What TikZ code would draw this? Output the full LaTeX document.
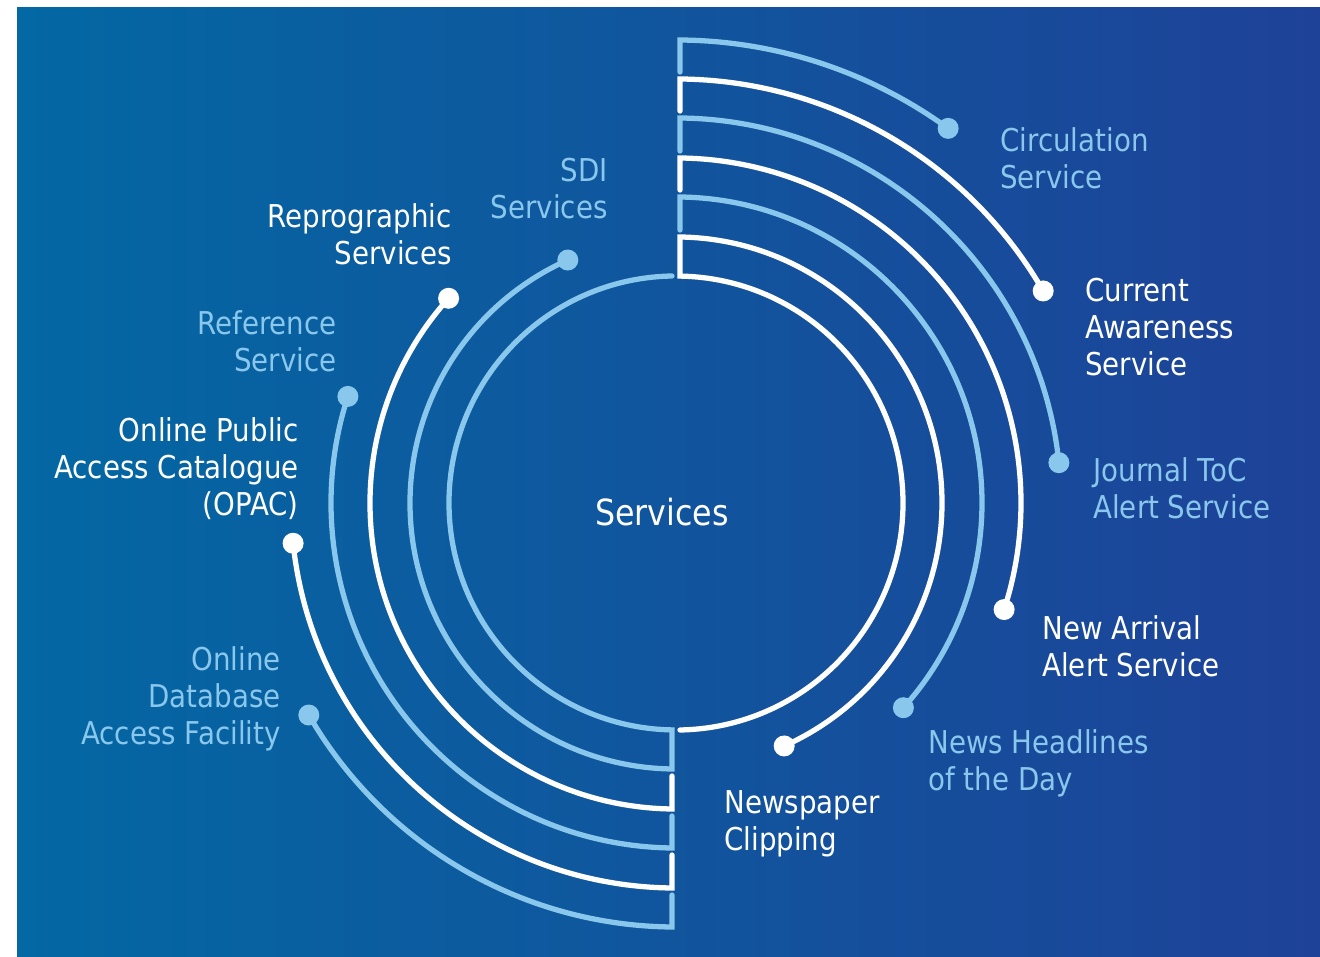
\documentclass[tikz,border=0pt]{standalone}
\usepackage{fontspec}
\setmainfont[FakeStretch=0.88]{DejaVu Sans}
\definecolor{bgL}{RGB}{3,104,163}
\definecolor{bgR}{RGB}{30,66,152}
\definecolor{lb}{RGB}{137,199,236}

\begin{document}
\begin{tikzpicture}[x=0.02cm, y=0.02cm,
    ring/.style={line width=3pt, line cap=round},
    knob/.style={radius=10.5},
    lab/.style={inner sep=0pt, font=\fontsize{17.9}{21}\selectfont}]
    \useasboundingbox (0,0) rectangle (1320,957);
    \shade[left color=bgL, right color=bgR] (17,0) rectangle (1320,949);

    % right half, clockwise from the top
    \draw[ring, white] (680,227) arc[start angle={-acos(4/227)}, end angle={acos(4/227)}, radius=227]
        -- (680,720) arc[start angle={acos(4/266)}, end angle=-66, radius=266] coordinate (dClip);
    \draw[ring, lb] (680,727) -- (680,760) arc[start angle={acos(4/306)}, end angle=-42, radius=306] coordinate (dNews);
    \draw[ring, white] (680,767) -- (680,799) arc[start angle={acos(4/345)}, end angle=-18, radius=345] coordinate (dArr);
    \draw[ring, lb] (680,806) -- (680,839) arc[start angle={acos(4/385)}, end angle=6, radius=385] coordinate (dToc);
    \draw[ring, white] (680,846) -- (680,878) arc[start angle={acos(4/424)}, end angle=30, radius=424] coordinate (dCur);
    \draw[ring, lb] (680,885) -- (680,917) arc[start angle={acos(4/463)}, end angle=54, radius=463] coordinate (dCirc);

    % left half, clockwise from the bottom
    \draw[ring, lb] (672,681) arc[start angle={180-acos(4/227)}, end angle={180+acos(4/227)}, radius=227]
        -- (672,188) arc[start angle={180+acos(4/266)}, end angle=114, radius=266] coordinate (dSdi);
    \draw[ring, white] (672,181) -- (672,148) arc[start angle={180+acos(4/306)}, end angle=138, radius=306] coordinate (dRepro);
    \draw[ring, lb] (672,141) -- (672,109) arc[start angle={180+acos(4/345)}, end angle=162, radius=345] coordinate (dRef);
    \draw[ring, white] (672,102) -- (672,69) arc[start angle={180+acos(4/385)}, end angle=186, radius=385] coordinate (dOpac);
    \draw[ring, lb] (672,62) -- (672,30) arc[start angle={180+acos(4/424)}, end angle=210, radius=424] coordinate (dOdb);

    \fill[white] (dClip) circle[knob];
    \fill[lb] (dNews) circle[knob];
    \fill[white] (dArr) circle[knob];
    \fill[lb] (dToc) circle[knob];
    \fill[white] (dCur) circle[knob];
    \fill[lb] (dCirc) circle[knob];
    \fill[lb] (dSdi) circle[knob];
    \fill[white] (dRepro) circle[knob];
    \fill[lb] (dRef) circle[knob];
    \fill[white] (dOpac) circle[knob];
    \fill[lb] (dOdb) circle[knob];

    \node[inner sep=0pt, text=white, font=\fontsize{20.5}{24}\selectfont] (hub) at (662,445) {Services};

    \node[lab, text=lb, anchor=west, align=left] (circ) at (1000,798.5) {Circulation\\Service};
    \node[lab, text=white, anchor=west, align=left] (cur) at (1085,630) {Current\\Awareness\\Service};
    \node[lab, text=lb, anchor=west, align=left] (toc) at (1093,468.5) {Journal ToC\\Alert Service};
    \node[lab, text=white, anchor=west, align=left] (arr) at (1042,310.5) {New Arrival\\Alert Service};
    \node[lab, text=lb, anchor=west, align=left] (news) at (928,193.5) {News Headlines\\of the Day};
    \node[lab, text=white, anchor=west, align=left] (clip) at (724,133) {Newspaper\\Clipping};

    \node[lab, text=lb, anchor=east, align=right] (sdi) at (608,768.5) {SDI\\Services};
    \node[lab, text=white, anchor=east, align=right] (repro) at (452,722.5) {Reprographic\\Services};
    \node[lab, text=lb, anchor=east, align=right] (ref) at (337,615.5) {Reference\\Service};
    \node[lab, text=white, anchor=east, align=right] (opac) at (299,488) {Online Public\\Access Catalogue\\(OPAC)};
    \node[lab, text=lb, anchor=east, align=right] (odb) at (281,258.5) {Online\\Database\\Access Facility};
\end{tikzpicture}
\end{document}
